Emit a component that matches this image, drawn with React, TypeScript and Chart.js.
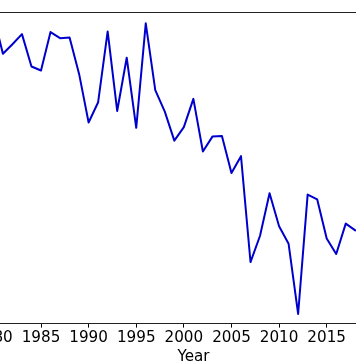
import React, { useEffect, useRef } from "react";
import { Chart, registerables } from "chart.js";

Chart.register(...registerables);

const years: number[] = [
  1980, 1981, 1982, 1983, 1984, 1985, 1986, 1987, 1988, 1989,
  1990, 1991, 1992, 1993, 1994, 1995, 1996, 1997, 1998, 1999,
  2000, 2001, 2002, 2003, 2004, 2005, 2006, 2007, 2008, 2009,
  2010, 2011, 2012, 2013, 2014, 2015, 2016, 2017, 2018,
];

const values: number[] = [
  8.0, 7.43, 7.57, 7.72, 7.24, 7.18, 7.75, 7.66, 7.67, 7.13,
  6.41, 6.71, 7.76, 6.58, 7.37, 6.33, 7.88, 6.89, 6.57, 6.14,
  6.34, 6.76, 5.98, 6.2, 6.21, 5.66, 5.91, 4.34, 4.73, 5.36,
  4.87, 4.61, 3.57, 5.34, 5.27, 4.69, 4.46, 4.91, 4.81,
];

const xTicks: number[] = [1980, 1985, 1990, 1995, 2000, 2005, 2010, 2015, 2020];
const xTitle = "Year";

const FONT = "'DejaVu Sans', sans-serif";

const topSpine = {
  id: "topSpine",
  afterDraw(chart: any) {
    const { ctx, chartArea } = chart;
    ctx.save();
    ctx.strokeStyle = "#222";
    ctx.lineWidth = 1;
    ctx.beginPath();
    ctx.moveTo(chartArea.left, Math.round(chartArea.top) + 0.5);
    ctx.lineTo(chartArea.right, Math.round(chartArea.top) + 0.5);
    ctx.stroke();
    ctx.restore();
  },
};

export default function App() {
  const ref = useRef<HTMLCanvasElement | null>(null);

  useEffect(() => {
    if (!ref.current) return;
    const chart = new Chart(ref.current, {
      type: "line",
      data: {
        datasets: [
          {
            data: years.map((y, i) => ({ x: y, y: values[i] })),
            borderColor: "#0000CD",
            borderWidth: 2,
            borderJoinStyle: "round",
            borderCapStyle: "round",
            pointRadius: 0,
            tension: 0,
            fill: false,
          },
        ],
      },
      options: {
        animation: false,
        responsive: false,
        devicePixelRatio: 1,
        layout: { padding: { top: 12, left: 0, right: 0, bottom: 0 } },
        plugins: { legend: { display: false }, tooltip: { enabled: false } },
        scales: {
          x: {
            type: "linear",
            min: 1977.544,
            max: 2024.483,
            afterBuildTicks: (scale: any) => {
              scale.ticks = xTicks.map((v) => ({ value: v }));
            },
            afterFit: (scale: any) => {
              scale.paddingLeft = 0;
              scale.paddingRight = 0;
            },
            ticks: {
              includeBounds: false,
              autoSkip: false,
              maxRotation: 0,
              padding: 3,
              color: "#000",
              font: { family: FONT, size: 15.2, lineHeight: 1 },
              callback: (v: any) => String(v),
            },
            grid: {
              drawOnChartArea: false,
              drawTicks: true,
              tickLength: 4,
              color: "#000",
            },
            border: { display: true, color: "#222", width: 1 },
            title: {
              display: true,
              text: xTitle,
              color: "#000",
              font: { family: FONT, size: 15.2, lineHeight: 1 },
              padding: { top: 1, bottom: -1 },
            },
          },
          y: {
            display: false,
            min: 3.427,
            max: 8.048,
          },
        },
      },
      plugins: [topSpine],
    });
    return () => chart.destroy();
  }, []);

  return (
    <div
      style={{
        position: "absolute",
        left: 0,
        top: 0,
        width: 356,
        height: 364,
        overflow: "hidden",
        background: "#fff",
      }}
    >
      <canvas
        ref={ref}
        width={447}
        height={364}
        style={{ position: "absolute", left: -30, top: 0, width: 447, height: 364 }}
      />
    </div>
  );
}
